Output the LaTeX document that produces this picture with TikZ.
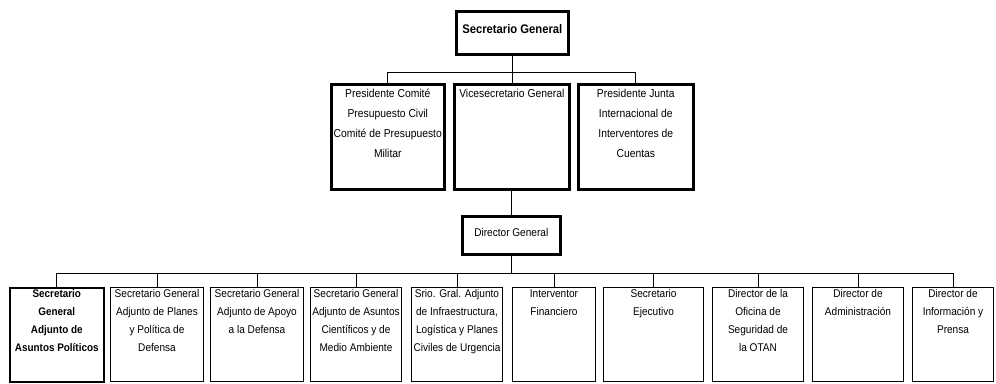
\documentclass[tikz,border=0pt]{standalone}
\usepackage{fontspec}
\setmainfont{Liberation Sans}[FakeStretch=0.9]
\newcommand{\bt}[4]{\parbox[t][#2][t]{#1}{\vspace*{#3}\centering #4\par}}
\begin{document}
\begin{tikzpicture}[x=1pt,y=-1pt,
  heavy/.style={draw,line width=2.6pt,inner sep=0pt,anchor=north west},
  mid/.style={draw,line width=1.6pt,inner sep=0pt,anchor=north west},
  thin/.style={draw,line width=1pt,inner sep=0pt,anchor=north west},
  conn/.style={line width=1pt},
  midtxt/.style={font=\fontsize{11.5pt}{20pt}\selectfont},
  lowtxt/.style={font=\fontsize{11.2pt}{18pt}\selectfont},
  lowbold/.style={font=\bfseries\fontsize{11pt}{18pt}\selectfont}]
\useasboundingbox (0,0) rectangle (996,383);
% top
\node[heavy,font=\bfseries\fontsize{12.5pt}{15pt}\selectfont] (sg) at (455,10) {\bt{112pt}{43pt}{13pt}{Secretario General}};
% middle row
\node[heavy,midtxt] (m1) at (330,83) {\bt{113pt}{105pt}{5pt}{Presidente Comité\\Presupuesto Civil\\Comité de Presupuesto\\Militar}};
\node[heavy,midtxt] (m2) at (453,83) {\bt{115pt}{105pt}{5pt}{Vicesecretario General}};
\node[heavy,midtxt] (m3) at (577,83) {\bt{115pt}{105pt}{5pt}{Presidente Junta\\Internacional de\\Interventores de\\Cuentas}};
% director
\node[heavy,font=\fontsize{11.2pt}{14pt}\selectfont] (dg) at (461,215) {\bt{98pt}{38pt}{12pt}{Director General}};
% bottom row
\node[mid,lowbold] (b1) at (9,287) {\bt{94pt}{94pt}{2pt}{Secretario\\General\\Adjunto de\\Asuntos Políticos}};
\node[thin,lowtxt] (b2) at (110,287) {\bt{93pt}{94pt}{2pt}{Secretario General\\Adjunto de Planes\\y Política de\\Defensa}};
\node[thin,lowtxt] (b3) at (210,287) {\bt{93pt}{94pt}{2pt}{Secretario General\\Adjunto de Apoyo\\a la Defensa}};
\node[thin,lowtxt] (b4) at (310,287) {\bt{91pt}{94pt}{2pt}{Secretario General\\Adjunto de Asuntos\\Científicos y de\\Medio Ambiente}};
\node[thin,lowtxt] (b5) at (411,287) {\bt{91pt}{94pt}{2pt}{Srio. Gral. Adjunto\\de Infraestructura,\\Logística y Planes\\Civiles de Urgencia}};
\node[thin,lowtxt] (b6) at (512,287) {\bt{83pt}{94pt}{2pt}{Interventor\\Financiero}};
\node[thin,lowtxt] (b7) at (603,287) {\bt{100pt}{94pt}{2pt}{Secretario\\Ejecutivo}};
\node[thin,lowtxt] (b8) at (712,287) {\bt{91pt}{94pt}{2pt}{Director de la\\Oficina de\\Seguridad de\\la OTAN}};
\node[thin,lowtxt] (b9) at (812,287) {\bt{91pt}{94pt}{2pt}{Director de\\Administración}};
\node[thin,lowtxt] (b10) at (912,287) {\bt{81pt}{94pt}{2pt}{Director de\\Información y\\Prensa}};
% connectors
\coordinate (bar1) at (510,72);
\coordinate (bar2) at (510,273);
\draw[conn] (sg.south) -- (sg.south |- m2.north);
\draw[conn] (m1.north) -- (m1.north |- bar1) -- (m3.north |- bar1) -- (m3.north);
\draw[conn] (m2.south) -- (m2.south |- dg.north);
\draw[conn] (dg.south) -- (dg.south |- bar2);
\draw[conn] (b1.north) -- (b1.north |- bar2) -- (b10.north |- bar2) -- (b10.north);
\foreach \b in {b2,b3,b4,b5,b6,b7,b8,b9}{\draw[conn] (\b.north) -- (\b.north |- bar2);}
\end{tikzpicture}
\end{document}
